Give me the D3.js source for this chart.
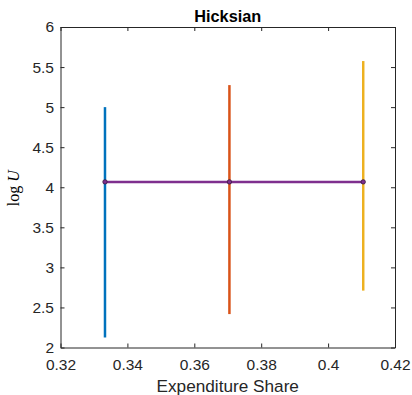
<!DOCTYPE html>
<html><head><meta charset="utf-8">
<script src="https://cdn.jsdelivr.net/npm/d3@7"></script>
<style>body{margin:0;background:#fff}svg{display:block}</style>
</head><body><svg id="c" width="412" height="395"></svg>
<script>
const shares = [0.3333, 0.3705, 0.4105];
const lowU = [2.125, 2.417, 2.71];
const highU = [5.0, 5.275, 5.575];
const hicksU = [4.067, 4.067, 4.067];
const colors = ["#0072BD", "#D95319", "#EDB120"];
const xTicks = [0.32, 0.34, 0.36, 0.38, 0.4, 0.42];
const xTickLabels = ["0.32", "0.34", "0.36", "0.38", "0.4", "0.42"];
const yTicks = [2, 2.5, 3, 3.5, 4, 4.5, 5, 5.5, 6];
const yTickLabels = ["2", "2.5", "3", "3.5", "4", "4.5", "5", "5.5", "6"];

const svg = d3.select("#c");
const L = 60.5, R = 395, T = 27, B = 347.5;
const x = d3.scaleLinear().domain([0.32, 0.42]).range([L, R]);
const y = d3.scaleLinear().domain([2, 6]).range([B, T]);
const font = "'Liberation Sans', Arial, Helvetica, sans-serif";
const axCol = "#262626";

const g = svg.append("g");
shares.forEach((s, i) => {
  g.append("line").attr("x1", x(s)).attr("x2", x(s))
    .attr("y1", y(lowU[i])).attr("y2", y(highU[i]))
    .attr("stroke", colors[i]).attr("stroke-width", 2.5);
});
const line = d3.line().x((d, i) => x(shares[i])).y(d => y(d));
g.append("path").attr("d", line(hicksU)).attr("fill", "none")
  .attr("stroke", "#7E2F8E").attr("stroke-width", 2.5);
g.selectAll("circle.m").data(hicksU).enter().append("circle")
  .attr("cx", (d, i) => x(shares[i])).attr("cy", d => y(d)).attr("r", 2.2)
  .attr("fill", "#7E2F8E").attr("stroke", "#3a1a40").attr("stroke-width", 0.8);

function styleAxis(sel) {
  sel.selectAll("path").attr("stroke", axCol);
  sel.selectAll("line").attr("stroke", axCol);
  sel.selectAll("text").attr("fill", axCol).style("font-family", font).style("font-size", "15.5px");
}
const xb = svg.append("g").attr("transform", `translate(0,${B})`)
  .call(d3.axisBottom(x).tickValues(xTicks).tickFormat((d, i) => xTickLabels[i]).tickSizeInner(-4).tickSizeOuter(0).tickPadding(11.5));
styleAxis(xb);
const xt = svg.append("g").attr("transform", `translate(0,${T})`)
  .call(d3.axisTop(x).tickValues(xTicks).tickFormat("").tickSizeInner(-4).tickSizeOuter(0));
styleAxis(xt);
const yl = svg.append("g").attr("transform", `translate(${L},0)`)
  .call(d3.axisLeft(y).tickValues(yTicks).tickFormat((d, i) => yTickLabels[i]).tickSizeInner(-4).tickSizeOuter(0).tickPadding(6.5));
styleAxis(yl);
const yr = svg.append("g").attr("transform", `translate(${R},0)`)
  .call(d3.axisRight(y).tickValues(yTicks).tickFormat("").tickSizeInner(-4).tickSizeOuter(0));
styleAxis(yr);

svg.append("text").attr("x", (L + R) / 2).attr("y", 21.7).attr("text-anchor", "middle")
  .style("font-family", font).style("font-size", "16.3px").style("font-weight", "bold")
  .attr("fill", "#000").text("Hicksian");
svg.append("text").attr("x", (L + R) / 2).attr("y", 391.5).attr("text-anchor", "middle")
  .style("font-family", font).style("font-size", "17.2px").attr("fill", axCol).text("Expenditure Share");
const yt = svg.append("text").attr("transform", `translate(18.5,${(T + B) / 2 + 1}) rotate(-90)`)
  .attr("text-anchor", "middle").style("font-family", "'Liberation Serif', 'Times New Roman', serif")
  .style("font-size", "16px").attr("fill", "#000");
yt.append("tspan").text("log ");
yt.append("tspan").style("font-style", "italic").text("U");
</script></body></html>
